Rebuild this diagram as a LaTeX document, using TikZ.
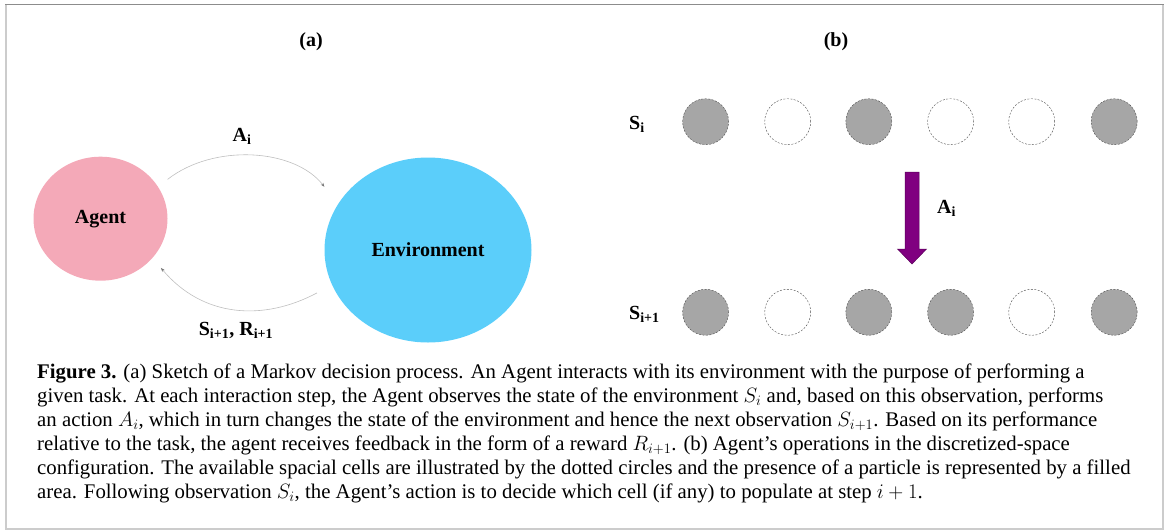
\documentclass[tikz,border=0pt]{standalone}
\usepackage{fontspec}
\setmainfont{Liberation Serif}
\usetikzlibrary{shapes.geometric,arrows.meta}

\definecolor{agentpink}{HTML}{F4A9B8}
\definecolor{envblue}{HTML}{5BCEFA}
\definecolor{cellgray}{HTML}{A6A6A6}
\definecolor{actpurple}{HTML}{800080}
\definecolor{framegray}{HTML}{CCCCCC}

\tikzset{
  lbl/.style={font=\fontsize{20}{24}\selectfont\bfseries, inner sep=0pt},
  flow/.style={draw=black!25, line width=0.6pt, -{Stealth[length=4pt,width=3pt,fill=black!55,color=black!55]}},
  cellfull/.style={circle, draw=black!70, dash pattern=on 2pt off 1.5pt, fill=cellgray, minimum size=46pt, inner sep=0pt},
  cellempty/.style={circle, draw=black!70, dash pattern=on 2pt off 1.5pt, minimum size=46pt, inner sep=0pt}
}

\begin{document}
\begin{tikzpicture}[x=1pt,y=-1pt]
\useasboundingbox (0,0) rectangle (1165,531);
\draw[framegray, line width=2pt] (6,4.5) -- (6,529) -- (1163,529) -- (1163,4.5);
\draw[black!45, line width=1.2pt] (5,4.5) -- (1164,4.5);

% (a) decision loop
\node[lbl] (tagA) at (311,42) {(a)};
\node[ellipse, fill=agentpink, minimum width=134pt, minimum height=124pt, lbl] (agent) at (100.5,218.7) {Agent};
\node[ellipse, fill=envblue, minimum width=207pt, minimum height=185pt, lbl] (env) at (428,250) {Environment};
\draw[flow, shorten <=12pt, shorten >=22pt] (agent.29) to[out=38,in=128] (env.153);
\draw[flow, shorten <=17pt, shorten >=13pt] (env.200) to[out=208,in=-50,looseness=1.1] (agent.-37);
\node[lbl] (act) at (242,136) {A\textsubscript{i}};
\node[lbl] (obs) at (236,330) {S\textsubscript{i+1}, R\textsubscript{i+1}};

% (b) cells before and after the action
\node[lbl] (tagB) at (836,42) {(b)};
\node[lbl, anchor=west] (rowA) at (629,124) {S\textsubscript{i}};
\node[lbl, anchor=west] (rowB) at (629,314) {S\textsubscript{i+1}};

\node[cellfull] (a1) at (705.6,121.7) {};
\node[cellempty] (a2) at (787.7,121.7) {};
\node[cellfull] (a3) at (868.8,121.7) {};
\node[cellempty] (a4) at (950.6,121.7) {};
\node[cellempty] (a5) at (1031.7,121.7) {};
\node[cellfull] (a6) at (1114.2,121.7) {};

\node[cellfull] (b1) at (705.6,312.3) {};
\node[cellempty] (b2) at (787.7,312.3) {};
\node[cellfull] (b3) at (868.8,312.3) {};
\node[cellfull] (b4) at (950.6,312.3) {};
\node[cellempty] (b5) at (1031.7,312.3) {};
\node[cellfull] (b6) at (1114.2,312.3) {};

\fill[actpurple, draw=actpurple!70!black, line width=0.5pt] (905,172) -- (919,172) -- (919,249) -- (926.5,249)
  -- (912,264) -- (897.5,249) -- (905,249) -- cycle;
\node[lbl, anchor=west] (actB) at (937,208) {A\textsubscript{i}};

% caption
\node[anchor=north west, align=left, inner sep=0pt, font=\fontsize{20.8}{23.9}\selectfont] (caption) at (37,364)
{\textbf{Figure 3.} (a) Sketch of a Markov decision process. An Agent interacts with its environment with the purpose of performing a\\
given task. At each interaction step, the Agent observes the state of the environment $S_i$ and, based on this observation, performs\\
an action $A_i$, which in turn changes the state of the environment and hence the next observation $S_{i+1}$. Based on its performance\\
relative to the task, the agent receives feedback in the form of a reward $R_{i+1}$. (b) Agent’s operations in the discretized-space\\
configuration. The available spacial cells are illustrated by the dotted circles and the presence of a particle is represented by a filled\\
area. Following observation $S_i$, the Agent’s action is to decide which cell (if any) to populate at step $i+1$.};
\end{tikzpicture}
\end{document}
